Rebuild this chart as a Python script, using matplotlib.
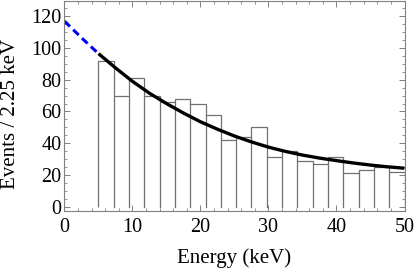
import matplotlib
matplotlib.use("Agg")
import matplotlib.pyplot as plt
from matplotlib.ticker import MultipleLocator
import numpy as np

# histogram: 20 bins of 2.25 keV from 5 to 50 keV
bin_edges = [5 + 2.25 * i for i in range(21)]
counts = [92, 70, 81, 70, 66, 68, 65, 58, 42, 44,
          50, 31, 35, 29, 27, 31, 21, 23, 25, 22]

# fitted curve
fit_energy = [0, 2.5, 5, 7.5, 10, 12.5, 15, 17.5, 20, 22.5, 25,
              27.5, 30, 32.5, 35, 37.5, 40, 42.5, 45, 47.5, 50]
fit_events = [117, 106.5, 96.5, 87.5, 79, 71.5, 65, 59, 53.5, 48.8, 44.5,
              40.8, 37.5, 34.8, 32.5, 30.6, 29, 27.5, 26.2, 25.1, 24.2]
fit_start = 5.0

plt.rcParams['font.family'] = ['Liberation Serif', 'DejaVu Serif']

fig = plt.figure(figsize=(4.15, 2.69), dpi=100)
ax = fig.add_axes([0.1554, 0.2167, 0.8193, 0.7813])

ax.stairs(counts, bin_edges, fill=False, edgecolor='#707070', linewidth=0.9,
          baseline=0)
# vertical lines of each bin
for e, c0, c1 in zip(bin_edges[1:-1], counts[:-1], counts[1:]):
    ax.plot([e, e], [0, min(c0, c1)], color='#707070', linewidth=0.9)

fe = np.array(fit_energy)
fv = np.array(fit_events)
pre = fe <= fit_start
post = fe >= fit_start
ax.plot(fe[pre], fv[pre], color='#0000ff', linestyle=(0, (2.5, 1.5)), linewidth=2.2)
ax.plot(fe[post], fv[post], color='black', linewidth=2.4, solid_capstyle='butt')

ax.set_xlim(0, 50)
ax.set_ylim(-2.6, 130)
ax.xaxis.set_major_locator(MultipleLocator(10))
ax.xaxis.set_minor_locator(MultipleLocator(2))
ax.yaxis.set_major_locator(MultipleLocator(20))
ax.yaxis.set_minor_locator(MultipleLocator(5))
ax.tick_params(which='both', direction='in', top=True, right=True,
               color='#808080', labelsize=14.5, pad=2)
ax.tick_params(which='major', length=4.5, width=0.7)
ax.tick_params(which='minor', length=2.5, width=0.6)
ax.tick_params(axis='x', pad=5)
for s in ax.spines.values():
    s.set_color('#808080')
    s.set_linewidth(0.8)

ax.set_xlabel('Energy (keV)', fontsize=15)
ax.set_ylabel('Events / 2.25 keV', fontsize=15)
ax.xaxis.set_label_coords(0.5, -0.18)
ax.yaxis.set_label_coords(-0.13, 0.46)

fig.savefig('out.png', dpi=100)
